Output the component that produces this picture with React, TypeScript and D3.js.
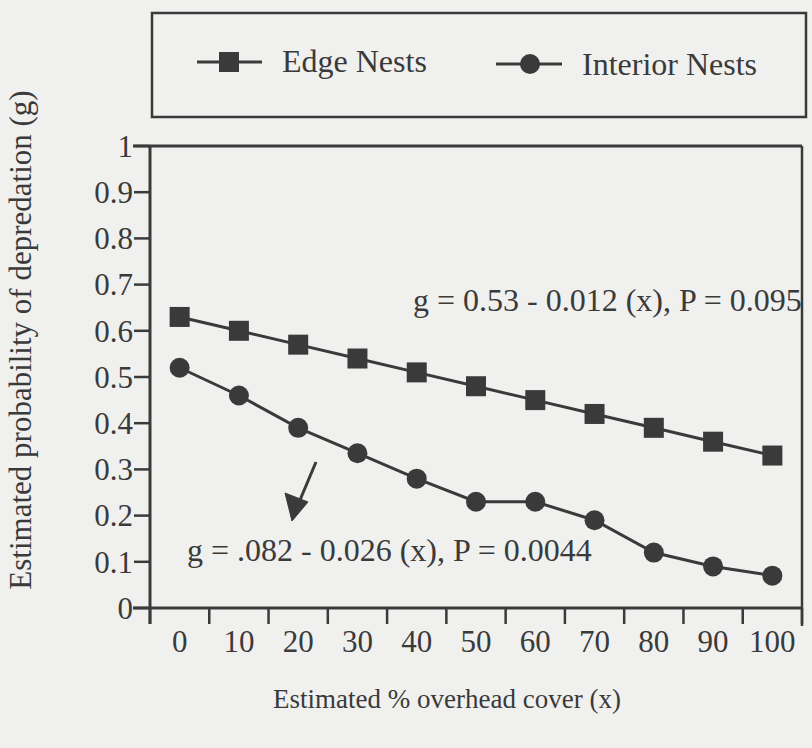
import React from "react";
import * as d3 from "d3";

const coverLevels: number[] = [0, 10, 20, 30, 40, 50, 60, 70, 80, 90, 100];
const edgeNests: number[] = [0.63, 0.6, 0.57, 0.54, 0.51, 0.48, 0.45, 0.42, 0.39, 0.36, 0.33];
const interiorNests: number[] = [0.52, 0.46, 0.39, 0.335, 0.28, 0.23, 0.23, 0.19, 0.12, 0.09, 0.07];
const yTickValues: number[] = [0, 0.1, 0.2, 0.3, 0.4, 0.5, 0.6, 0.7, 0.8, 0.9, 1];
const seriesNames: string[] = ["Edge Nests", "Interior Nests"];
const edgeEquation = "g = 0.53 - 0.012 (x), P = 0.095";
const interiorEquation = "g = .082 - 0.026 (x), P = 0.0044";
const xTitle = "Estimated % overhead cover (x)";
const yTitle = "Estimated probability of depredation (g)";

const W = 812;
const H = 748;
const INK = "#3a3a3a";
const BG = "#f0f0ee";
const FONT = "'Liberation Serif', 'DejaVu Serif', serif";

export default function App() {
  const left = 150;
  const right = 802;
  const top = 146;
  const bottom = 608;

  const x = d3.scaleBand<number>().domain(coverLevels).range([left, right]).padding(0);
  const y = d3.scaleLinear().domain([0, 1]).range([bottom, top]);
  const cx = (v: number) => (x(v) as number) + x.bandwidth() / 2;

  const line = d3
    .line<number>()
    .x((_, i) => cx(coverLevels[i]))
    .y((d) => y(d));

  const boundaries = coverLevels.map((v) => x(v) as number).concat([right]);

  const fmt = (v: number) => (v === 0 ? "0" : v === 1 ? "1" : d3.format(".1f")(v));

  return (
    <svg
      width={W}
      height={H}
      style={{ position: "absolute", left: 0, top: 0, background: BG }}
      fontFamily={FONT}
    >
      <rect x={0} y={0} width={W} height={H} fill={BG} />

      {/* legend box */}
      <rect x={152} y={13} width={654} height={104} fill="none" stroke={INK} strokeWidth={2.5} />
      <g>
        <line x1={197} x2={262} y1={62} y2={62} stroke={INK} strokeWidth={3} />
        <rect x={219} y={52} width={20} height={20} fill={INK} />
        <text x={282} y={72} fontSize={32} fill={INK}>{seriesNames[0]}</text>
        <line x1={496} x2={562} y1={64} y2={64} stroke={INK} strokeWidth={3} />
        <circle cx={530} cy={64} r={10} fill={INK} />
        <text x={582} y={75} fontSize={32} fill={INK}>{seriesNames[1]}</text>
      </g>

      {/* frame top and right */}
      <line x1={133} x2={right} y1={top} y2={top} stroke={INK} strokeWidth={3} />
      <line x1={right} x2={right} y1={top} y2={bottom + 18} stroke={INK} strokeWidth={2.5} />

      {/* y axis */}
      <line x1={left} x2={left} y1={top} y2={bottom + 16} stroke={INK} strokeWidth={3} />
      {yTickValues.map((v) => (
        <g key={"y" + v}>
          <line x1={left - 16} x2={left} y1={y(v)} y2={y(v)} stroke={INK} strokeWidth={2.5} />
          <text
            x={left - 17}
            y={y(v)}
            dy="0.35em"
            textAnchor="end"
            fontSize={31}
            fill={INK}
          >
            {fmt(v)}
          </text>
        </g>
      ))}

      {/* x axis */}
      <line x1={133} x2={right} y1={bottom} y2={bottom} stroke={INK} strokeWidth={3} />
      {boundaries.map((b, i) => (
        <line key={"xt" + i} x1={b} x2={b} y1={bottom} y2={bottom + 16} stroke={INK} strokeWidth={2.5} />
      ))}
      {coverLevels.map((v) => (
        <text key={"xl" + v} x={cx(v)} y={652} textAnchor="middle" fontSize={31} fill={INK}>
          {v}
        </text>
      ))}

      {/* series */}
      <path d={line(edgeNests) as string} fill="none" stroke={INK} strokeWidth={3} />
      {edgeNests.map((v, i) => (
        <rect key={"e" + i} x={cx(coverLevels[i]) - 10} y={y(v) - 10} width={20} height={20} fill={INK} />
      ))}
      <path d={line(interiorNests) as string} fill="none" stroke={INK} strokeWidth={3} />
      {interiorNests.map((v, i) => (
        <circle key={"c" + i} cx={cx(coverLevels[i])} cy={y(v)} r={10} fill={INK} />
      ))}

      {/* annotations */}
      <text x={413} y={311} fontSize={32} fill={INK}>{edgeEquation}</text>
      <text x={187} y={561} fontSize={32} fill={INK}>{interiorEquation}</text>
      <line x1={316} x2={300} y1={462} y2={500} stroke={INK} strokeWidth={3} />
      <path d="M 292 521 L 285 493 L 308 502 Z" fill={INK} stroke={INK} strokeWidth={1} />

      {/* axis titles */}
      <text x={447} y={708} textAnchor="middle" fontSize={27} fill={INK}>{xTitle}</text>
      <text
        transform={`translate(31, 340) rotate(-90)`}
        textAnchor="middle"
        fontSize={31}
        fill={INK}
      >
        {yTitle}
      </text>
    </svg>
  );
}
